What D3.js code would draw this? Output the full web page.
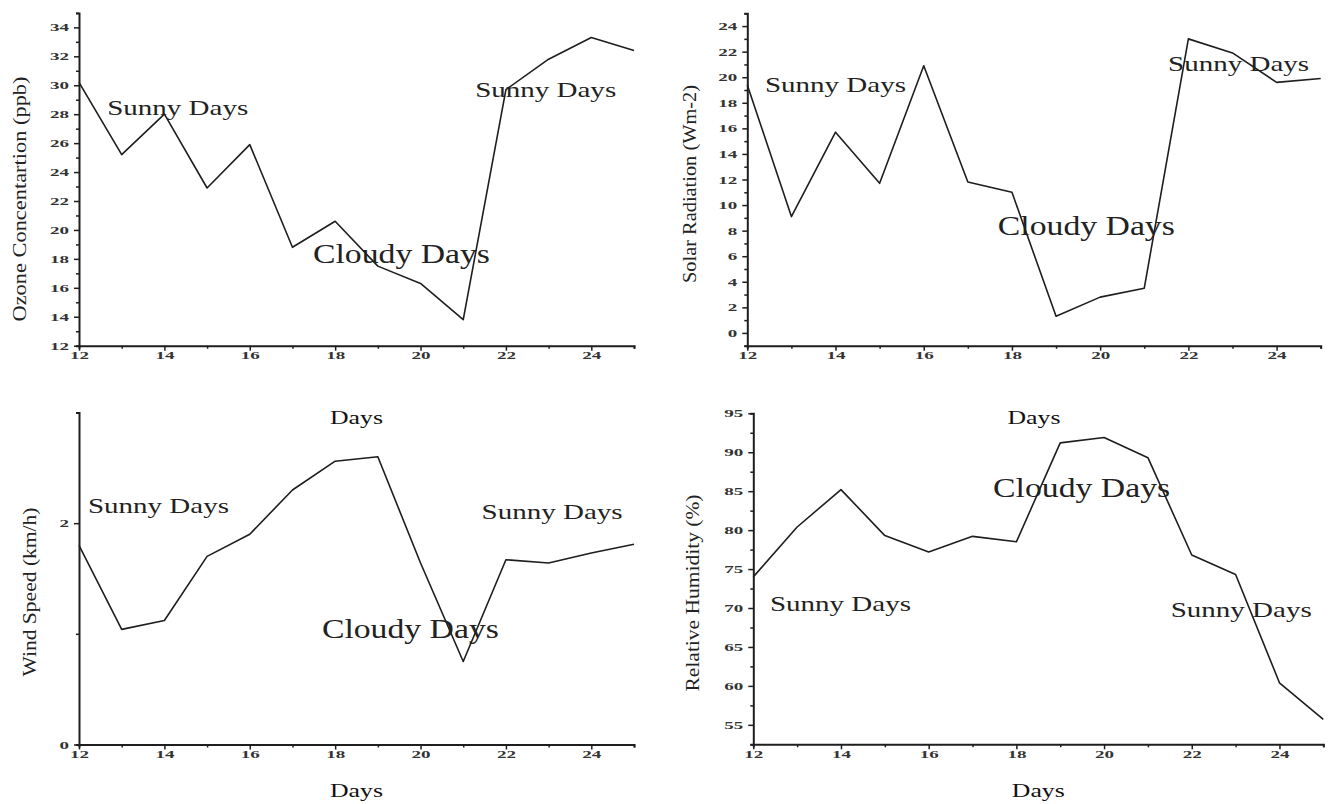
<!DOCTYPE html>
<html>
<head>
<meta charset="utf-8">
<script src="https://cdn.jsdelivr.net/npm/d3@7"></script>
<style>
  body { margin: 0; background: #fff; }
  text { font-family: "Liberation Serif", "Times New Roman", serif; }
</style>
</head>
<body>
<svg id="chart" width="1330" height="804"></svg>
<script>
const days = [12, 13, 14, 15, 16, 17, 18, 19, 20, 21, 22, 23, 24, 25];
const ozone = [30.2, 25.2, 28.0, 22.9, 25.9, 18.8, 20.6, 17.5, 16.3, 13.8, 29.7, 31.8, 33.3, 32.4];
const solar = [19.4, 9.1, 15.7, 11.7, 20.9, 11.8, 11.0, 1.3, 2.8, 3.5, 23.0, 21.9, 19.6, 19.9];
const wind = [1.80, 1.04, 1.12, 1.70, 1.90, 2.30, 2.56, 2.60, 1.64, 0.75, 1.67, 1.64, 1.73, 1.81];
const humidity = [74.0, 80.4, 85.2, 79.3, 77.2, 79.2, 78.5, 91.2, 91.9, 89.3, 76.8, 74.3, 60.4, 55.7];

const xTicks = [12, 14, 16, 18, 20, 22, 24];
const xMinor = [13, 15, 17, 19, 21, 23, 25];

const yTitles = ["Ozone Concentartion (ppb)", "Solar Radiation (Wm-2)", "Wind Speed (km/h)", "Relative Humidity (%)"];
const xTitle = "Days";

// annotations: [text, day, value]
const notes = [
  [["Sunny Days", 12.66, 27.94], ["Cloudy Days", 17.48, 17.72], ["Sunny Days", 21.28, 29.21]],
  [["Sunny Days", 12.40, 18.87], ["Cloudy Days", 17.68, 7.66], ["Sunny Days", 21.54, 20.49]],
  [["Sunny Days", 12.21, 2.094], ["Cloudy Days", 17.69, 0.962], ["Sunny Days", 21.43, 2.037]],
  [["Cloudy Days", 17.47, 84.28], ["Sunny Days", 12.38, 69.65], ["Sunny Days", 21.52, 68.84]]
];

const panels = [
  {values: ozone, yDomain: [12, 35], yTicks: d3.range(12, 35, 2), yMinor: d3.range(13, 36, 2),
   x0: 79, x1: 634, y0: 345.7, y1: 12.9, titleX: 20, titleY: 199, titleLen: 245, daysY: 424},
  {values: solar, yDomain: [-1, 25], yTicks: d3.range(0, 25, 2), yMinor: d3.range(-1, 26, 2),
   x0: 747.3, x1: 1320.7, y0: 345.7, y1: 13.3, titleX: 690, titleY: 184, titleLen: 198, daysY: 424},
  {values: wind, yDomain: [0, 3], yTicks: [0, 2], yMinor: [1, 3],
   x0: 79, x1: 634, y0: 744.5, y1: 412.5, titleX: 30, titleY: 592, titleLen: 169, daysY: 797},
  {values: humidity, yDomain: [52.5, 95], yTicks: d3.range(55, 96, 5), yMinor: d3.range(52.5, 95, 5),
   x0: 753.3, x1: 1323.3, y0: 744.3, y1: 413.3, titleX: 693, titleY: 593, titleLen: 197, daysY: 797}
];

const svg = d3.select("#chart");
const ink = "#1e1e1e";
const fmt = d3.format("~g");

panels.forEach((p, pi) => {
  const x = d3.scaleLinear().domain([12, 25]).range([p.x0, p.x1]);
  const y = d3.scaleLinear().domain(p.yDomain).range([p.y0, p.y1]);
  const g = svg.append("g").attr("class", "panel");

  // minor ticks
  g.append("g")
    .attr("transform", `translate(0,${p.y0})`)
    .call(d3.axisBottom(x).tickValues(xMinor).tickSize(3).tickSizeOuter(0).tickFormat(""))
    .call(a => a.select(".domain").remove());
  g.append("g")
    .attr("transform", `translate(${p.x0},0)`)
    .call(d3.axisLeft(y).tickValues(p.yMinor).tickSize(3).tickSizeOuter(0).tickFormat(""))
    .call(a => a.select(".domain").remove());

  // main axes
  const xa = g.append("g")
    .attr("transform", `translate(0,${p.y0})`)
    .call(d3.axisBottom(x).tickValues(xTicks).tickFormat(fmt).tickSize(5).tickSizeOuter(3).tickPadding(1));
  const ya = g.append("g")
    .attr("transform", `translate(${p.x0},0)`)
    .call(d3.axisLeft(y).tickValues(p.yTicks).tickFormat(fmt).tickSize(5).tickSizeOuter(3).tickPadding(5));

  [xa, ya].forEach(a => {
    a.select(".domain").attr("stroke", ink).attr("stroke-width", 2);
    a.selectAll(".tick text")
      .attr("font-family", "Liberation Serif, serif")
      .attr("font-size", 11)
      .attr("font-weight", "bold")
      .attr("fill", "#333")
      .attr("textLength", function(){ return this.textContent.length * 9.5; })
      .attr("lengthAdjust", "spacingAndGlyphs");
  });
  g.selectAll(".tick line").attr("stroke", ink).attr("stroke-width", 1.5);

  // line
  g.append("path")
    .datum(days.map((d, i) => [d, p.values[i]]))
    .attr("fill", "none")
    .attr("stroke", ink)
    .attr("stroke-width", 1.6)
    .attr("stroke-linejoin", "round")
    .attr("d", d3.line().x(d => x(d[0])).y(d => y(d[1])));

  // annotations
  g.selectAll(".note")
    .data(notes[pi])
    .enter().append("text")
    .attr("class", "note")
    .attr("x", d => x(d[1]))
    .attr("y", d => y(d[2]))
    .attr("font-size", d => d[0] === "Cloudy Days" ? 28 : 22)
    .attr("textLength", d => d[0] === "Cloudy Days" ? 177 : 141)
    .attr("lengthAdjust", "spacingAndGlyphs")
    .attr("fill", "#222")
    .text(d => d[0]);

  // y title
  g.append("text")
    .attr("transform", `translate(${p.titleX},${p.titleY}) rotate(-90)`)
    .attr("text-anchor", "middle")
    .attr("dy", "0.35em")
    .attr("font-size", 18)
    .attr("textLength", p.titleLen)
    .attr("lengthAdjust", "spacingAndGlyphs")
    .attr("fill", "#222")
    .text(yTitles[pi]);

  // x title
  g.append("text")
    .attr("x", (p.x0 + p.x1) / 2)
    .attr("y", p.daysY)
    .attr("text-anchor", "middle")
    .attr("font-size", 19)
    .attr("textLength", 53)
    .attr("lengthAdjust", "spacingAndGlyphs")
    .attr("fill", "#111")
    .text(xTitle);
});
</script>
</body>
</html>
